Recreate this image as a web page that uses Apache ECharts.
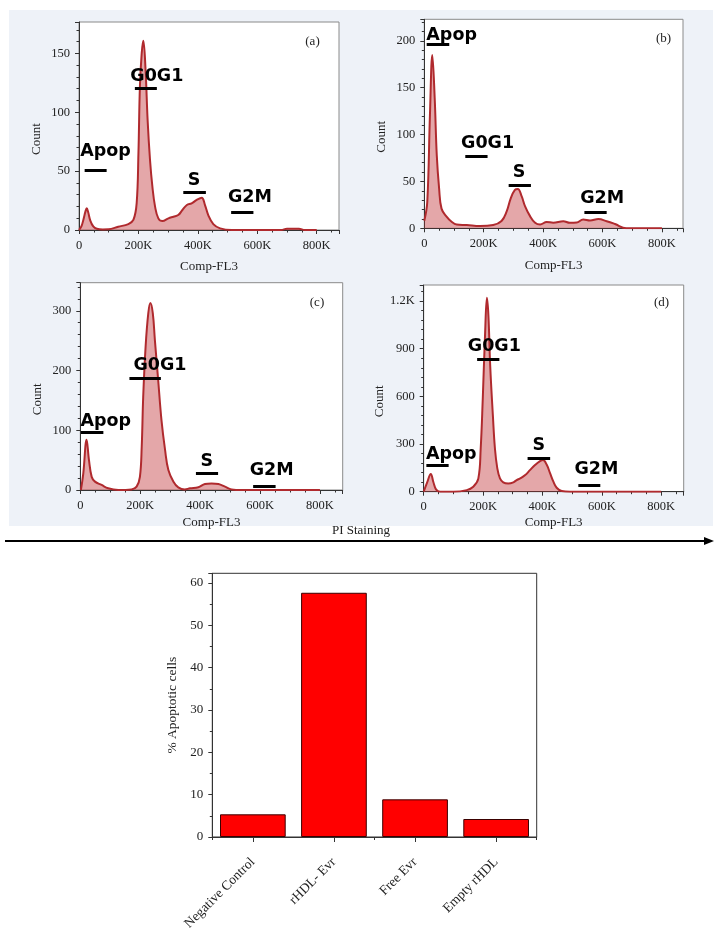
<!DOCTYPE html>
<html><head><meta charset="utf-8">
<script src="https://cdn.jsdelivr.net/npm/echarts@6/dist/echarts.min.js"></script>
<style>html,body{margin:0;padding:0;background:#fff}#c{width:722px;height:928px}</style>
</head><body><div id="c"></div>
<script>
// ---------- DATA ----------
// Histograms: Comp-FL3 (in thousands) vs Count
const histA_x = [0, 8, 15, 22, 26, 31, 38, 48, 60, 80, 99, 132, 166, 183, 194, 200, 205, 211, 216.5, 224, 231, 239, 247, 256, 267, 281, 301, 318, 334, 348, 363, 379, 396, 413, 424, 435, 452, 475, 514, 600, 680, 700, 740, 760, 800];
const histA_y = [0, 3, 9, 16, 18.4, 15, 8, 3, 1, 0.5, 0.6, 2.8, 5, 8.5, 22.6, 65, 122, 150, 160.7, 135.8, 93, 59.4, 36.8, 19.8, 9.9, 7.6, 9.9, 11.3, 12.7, 17, 21.2, 22.6, 25.5, 27.4, 21.2, 12.7, 5, 1.4, 0, 0, 0, 1, 1, 0, 0];

const histB_x = [0, 10, 19, 27, 35, 42, 50, 58, 75, 92, 109, 143, 187, 232, 260, 277, 291, 305, 315, 328, 339, 356, 373, 390, 412, 434, 468, 490, 513, 535, 558, 586, 614, 642, 680, 800];
const histB_y = [8, 28, 121, 185, 139, 78, 42, 21, 12.4, 6.9, 4, 3.5, 2.4, 3.5, 7.8, 17.7, 32, 41, 42, 34, 23.7, 13, 5.9, 4, 6.8, 5.9, 7.6, 5.9, 6.2, 9.4, 8.3, 9.8, 7.6, 4.6, 0, 0];

const histC_x = [2, 10, 21, 29, 38, 49, 71, 93, 127, 171, 188, 199, 205, 210, 218, 227, 234, 242, 249, 260, 271, 283, 294, 311, 327, 349, 366, 394, 416, 438, 461, 483, 505, 538, 800];
const histC_y = [0, 28, 84, 50, 22, 14, 8.4, 2.8, 0, 1, 5.6, 22, 72, 156, 240, 296, 313, 296, 251, 184, 117, 67, 33.5, 14, 4.5, 1, 2.8, 4.5, 10, 11, 10, 5.6, 1, 0, 0];

const histD_x = [0, 12, 24, 32.5, 41.5, 55, 100, 145, 167, 184, 192, 199, 207, 213, 218, 224, 233, 240, 248, 257, 268, 285, 302, 313, 325, 342, 358, 375, 392, 402, 415, 426, 437, 448, 465, 493, 800];
const histD_y = [0, 61, 112, 61, 15, 0, 0, 10, 31, 82, 270, 585, 1005, 1220, 1110, 796, 482, 272, 147, 84, 59, 52, 59, 73, 84, 105, 136, 168, 193, 200, 168, 115, 63, 25, 4, 0, 0];

// Gates: [from (K), to (K), count level]
const gateNames = ['Apop', 'G0G1', 'S', 'G2M'];
const gatesA = [[19, 93, 51], [188, 262, 120], [351, 427, 32], [512, 587, 15]];
const gatesB = [[8, 84, 196], [138, 213, 76.5], [284, 359, 45.5], [539, 614, 16.7]];
const gatesC = [[2, 77, 97], [164, 269, 187], [386, 460, 28], [577, 652, 6.7]];
const gatesD = [[9, 84, 168], [180, 255, 835], [350, 426, 210], [521, 595, 42]];
// Gate label anchors (data coords: K, count)
const gateLabA = [[89, 67], [262, 130], [387, 42], [575, 27.8]];
const gateLabB = [[92, 206], [213, 90], [319, 59.4], [599, 32]];
const gateLabC = [[85, 114.5], [266, 208], [422, 47.5], [639, 32]];
const gateLabD = [[93, 237], [238, 917], [388, 294], [582, 137]];

const panelTags = ['(a)', '(b)', '(c)', '(d)'];

// Bar chart
const barCategories = ['Negative Control', 'rHDL- Evr', 'Free Evr', 'Empty rHDL'];
const apoptoticPct = [5.36, 57.7, 8.9, 4.25];

// ---------- BUILD ----------
const SERIF = 'Liberation Serif';
const panels = [
  {x: histA_x, y: histA_y, g: gatesA, l: gateLabA, grid: {left: 79, top: 22, width: 260, height: 208}, xMax: 875, yMax: 176.6, yInt: 50, xGap: 30},
  {x: histB_x, y: histB_y, g: gatesB, l: gateLabB, grid: {left: 424.3, top: 19.3, width: 258.7, height: 209}, xMax: 871, yMax: 223, yInt: 50, xGap: 31},
  {x: histC_x, y: histC_y, g: gatesC, l: gateLabC, grid: {left: 80.3, top: 282.7, width: 262.4, height: 207.3}, xMax: 876, yMax: 347, yInt: 100, xGap: 26},
  {x: histD_x, y: histD_y, g: gatesD, l: gateLabD, grid: {left: 423.7, top: 285, width: 260, height: 206.7}, xMax: 876, yMax: 1301, yInt: 300, xGap: 24}
];

const grids = [], xAxes = [], yAxes = [], series = [];
const axisCol = '#333';
panels.forEach((p, i) => {
  grids.push(Object.assign({show: true, backgroundColor: '#fff', borderColor: '#8a8a8a', borderWidth: 1, outerBoundsMode: 'none', containLabel: false}, p.grid));
  xAxes.push({
    type: 'value', gridIndex: i, min: 0, max: p.xMax, interval: 200,
    axisLine: {show: true, onZero: false, lineStyle: {color: axisCol, width: 1}},
    axisTick: {show: true, length: 4, lineStyle: {color: axisCol}},
    minorTick: {show: true, splitNumber: 4, length: 2.5, lineStyle: {color: axisCol}},
    splitLine: {show: false},
    axisLabel: {formatter: v => v === 0 ? '0' : v + 'K', fontFamily: SERIF, fontSize: 12.5, color: '#222', margin: 9, showMaxLabel: false},
    name: 'Comp-FL3', nameLocation: 'middle', nameGap: p.xGap,
    nameTextStyle: {fontFamily: SERIF, fontSize: 13, color: '#222'}
  });
  yAxes.push({
    type: 'value', gridIndex: i, min: 0, max: p.yMax, interval: p.yInt,
    axisLine: {show: true, onZero: false, lineStyle: {color: axisCol, width: 1}},
    axisTick: {show: true, length: 4, lineStyle: {color: axisCol}},
    minorTick: {show: true, splitNumber: 5, length: 2.5, lineStyle: {color: axisCol}},
    splitLine: {show: false},
    axisLabel: {formatter: v => v >= 1000 ? (v / 1000) + 'K' : String(v), fontFamily: SERIF, fontSize: 12.5, color: '#222', margin: 9, showMaxLabel: false},
    name: 'Count', nameLocation: 'middle', nameGap: 36, nameRotate: 90,
    nameTextStyle: {fontFamily: SERIF, fontSize: 13, color: '#222', padding: [0, 26, 0, 0]}
  });
  series.push({
    type: 'line', xAxisIndex: i, yAxisIndex: i,
    data: p.x.map((x, j) => [x, p.y[j]]),
    smooth: 0.4, symbol: 'none', silent: true,
    lineStyle: {color: '#b02a2e', width: 2},
    areaStyle: {color: 'rgba(190,45,50,0.6)'},
    markLine: {
      silent: true, symbol: 'none', animation: false,
      lineStyle: {color: '#000', width: 3, type: 'solid'},
      label: {show: false},
      data: p.g.map(g => [{coord: [g[0], g[2]]}, {coord: [g[1], g[2]]}])
    }
  });
  series.push({
    type: 'scatter', xAxisIndex: i, yAxisIndex: i, silent: true, z: 5,
    symbolSize: 1, itemStyle: {color: 'rgba(0,0,0,0)'},
    data: p.l.map((c, j) => [c[0], c[1], gateNames[j]]),
    label: {show: true, position: 'inside', formatter: q => q.data[2], opacity: 1,
      fontFamily: 'DejaVu Sans', fontWeight: 'bold', fontSize: 17.5, color: '#000', textBorderWidth: 0}
  });
});

// bar chart
grids.push({left: 212.3, top: 573.3, width: 324.4, height: 263.7, show: true, borderColor: '#333', borderWidth: 1, backgroundColor: '#fff', outerBoundsMode: 'none', containLabel: false});
xAxes.push({
  type: 'category', gridIndex: 4, data: barCategories,
  axisLine: {show: true, lineStyle: {color: axisCol}},
  axisTick: {show: true, alignWithLabel: true, length: 5, lineStyle: {color: axisCol}},
  axisLabel: {rotate: 45, interval: 0, fontFamily: SERIF, fontSize: 13.5, color: '#222', margin: 23}
});
xAxes.push({
  type: 'category', gridIndex: 4, data: barCategories, position: 'bottom',
  axisLine: {show: false}, axisLabel: {show: false},
  axisTick: {show: true, length: 3, lineStyle: {color: axisCol}}
});
yAxes.push({
  type: 'value', gridIndex: 4, min: 0, max: 62.3, interval: 10,
  axisLine: {show: true, lineStyle: {color: axisCol}},
  axisTick: {show: true, length: 4, lineStyle: {color: axisCol}},
  minorTick: {show: true, splitNumber: 2, length: 2.5, lineStyle: {color: axisCol}},
  splitLine: {show: false},
  axisLabel: {fontFamily: SERIF, fontSize: 13, color: '#222', margin: 9, showMaxLabel: false},
  name: '% Apoptotic cells', nameLocation: 'middle', nameGap: 33, nameRotate: 90,
  nameTextStyle: {fontFamily: SERIF, fontSize: 13.5, color: '#222'}
});
series.push({
  type: 'bar', xAxisIndex: 4, yAxisIndex: 4, data: apoptoticPct,
  barCategoryGap: '19%',
  itemStyle: {color: '#ff0000', borderColor: '#3a0000', borderWidth: 1}
});

const tagPos = [[312.5, 41.7], [663.5, 39], [317, 303], [661.5, 303]];
const graphic = [
  {type: 'rect', z: -100, shape: {x: 9, y: 10, width: 704, height: 516}, style: {fill: '#eef2f8'}},
  {type: 'text', x: 361, y: 531, style: {text: 'PI Staining', font: '13px "Liberation Serif"', fill: '#222', textAlign: 'center', textVerticalAlign: 'middle'}},
  {type: 'line', shape: {x1: 5, y1: 541, x2: 706, y2: 541}, style: {stroke: '#000', lineWidth: 2}},
  {type: 'polygon', shape: {points: [[714, 541], [704, 537], [704, 545]]}, style: {fill: '#000'}}
];
panelTags.forEach((t, i) => graphic.push({type: 'text', x: tagPos[i][0], y: tagPos[i][1], z: 10,
  style: {text: t, font: '13px "Liberation Serif"', fill: '#222', textAlign: 'center', textVerticalAlign: 'middle'}}));

const chart = echarts.init(document.getElementById('c'));
chart.setOption({animation: false, grid: grids, xAxis: xAxes, yAxis: yAxes, series, graphic});
</script></body></html>
